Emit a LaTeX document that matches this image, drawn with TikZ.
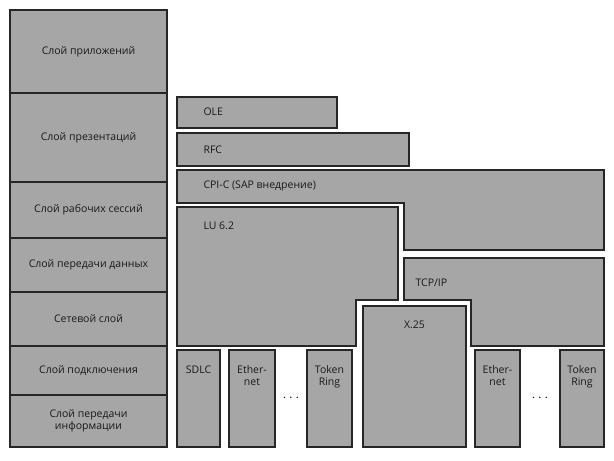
\documentclass[tikz,border=0pt]{standalone}
\usepackage{fontspec}
\setmainfont{Open Sans}
\begin{document}
\begin{tikzpicture}[x=1pt,y=-1pt,
    layer/.style={draw=black!85, line width=1.2pt, fill=black!35},
    lbl/.style={font=\fontsize{10.5}{12}\selectfont, align=center, text=black!90}]
        \useasboundingbox (0,0) rectangle (614,461);

        % the model layers on the left
        \foreach \ya/\yb/\name/\txt in {10/93/l1/Слой приложений, 93/182/l2/Слой презентаций,
            182/238/l3/Слой рабочих сессий, 238/292/l4/Слой передачи данных,
            292/346/l5/Сетевой слой, 346/395/l6/Слой подключения,
            395/447/l7/{Слой передачи\\информации}}
        {
            \draw[layer] (10,\ya) rectangle (167,\yb);
            \node[lbl] (\name) at (88.5,{(\ya+\yb)/2}) {\txt};
        }

        % the protocols
        \draw[layer] (177,97) rectangle (337,128);
        \node[lbl, anchor=west] (ole) at (200,112) {OLE};
        \draw[layer] (177,133) rectangle (409,166);
        \node[lbl, anchor=west] (rfc) at (200,150) {RFC};
        \draw[layer] (177,170) -- (604,170) -- (604,250) -- (404,250) -- (404,203) -- (177,203) -- cycle;
        \node[lbl, anchor=west] (cpic) at (200,186) {CPI-C (SAP внедрение)};
        \draw[layer] (177,207) -- (398,207) -- (398,300) -- (356,300) -- (356,346) -- (177,346) -- cycle;
        \node[lbl, anchor=west] (lu) at (200,226) {LU 6.2};
        \draw[layer] (404,258) -- (604,258) -- (604,346) -- (471,346) -- (471,300) -- (404,300) -- cycle;
        \node[lbl, anchor=west] (tcp) at (412,283) {TCP/IP};
        \draw[layer] (363,306) rectangle (466,447);
        \node[lbl] (x25) at (414.5,325) {X.25};

        % the physical networks
        \foreach \xa/\xb/\name/\txt in {177/220/sdlc/SDLC, 229/275/eth1/{Ether-\\net},
            307/352/tr1/{Token\\Ring}, 475/520/eth2/{Ether-\\net}, 560/604/tr2/{Token\\Ring}}
        {
            \draw[layer] (\xa,350) rectangle (\xb,447);
            \node[lbl, anchor=north] (\name) at ({(\xa+\xb)/2},362) {\txt};
        }
        \node[lbl, font=\Large] (dots1) at (291,398) {$\cdots$};
        \node[lbl, font=\Large] (dots2) at (540,398) {$\cdots$};
\end{tikzpicture}
\end{document}
